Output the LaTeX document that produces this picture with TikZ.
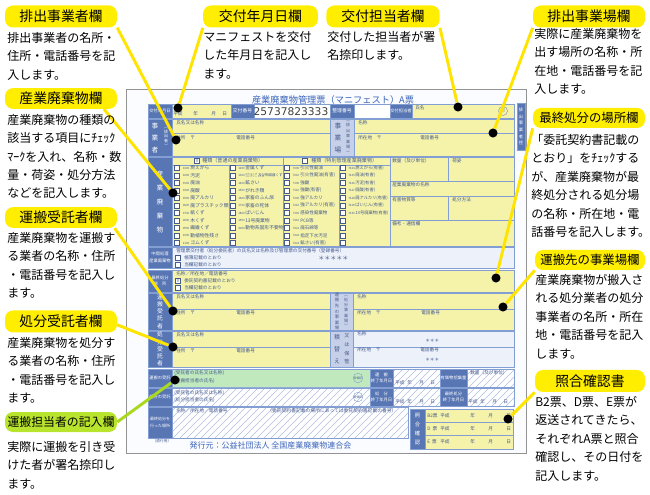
\documentclass[tikz,border=0pt]{standalone}
\usepackage{fontspec}
\setmainfont{Noto Sans CJK JP}
\newfontfamily\numfont{DejaVu Sans}
\usepackage{tikz}
\usetikzlibrary{shapes,positioning}
\pgfdeclarelayer{front}
\pgfsetlayers{main,front}

\definecolor{callout}{RGB}{255,238,0}
\definecolor{calloutgreen}{RGB}{185,228,45}
\definecolor{leadyellow}{RGB}{255,228,0}
\definecolor{leadgreen}{RGB}{170,216,30}
\definecolor{sheet}{RGB}{250,252,255}
\definecolor{formyellow}{RGB}{245,243,170}
\definecolor{formgreen}{RGB}{192,234,190}
\definecolor{formpale}{RGB}{236,241,250}
\definecolor{formblue}{RGB}{88,118,180}
\definecolor{formlight}{RGB}{198,208,232}
\definecolor{formline}{RGB}{130,158,210}
\definecolor{formtext}{RGB}{70,90,140}
\definecolor{hatchblue}{RGB}{175,190,225}
\definecolor{titleblue}{RGB}{60,100,185}

\tikzstyle{heading} = [rectangle, rounded corners=6pt, fill=callout,
    minimum width=84pt, minimum height=16.5pt, inner sep=0pt,
    font=\fontsize{10.4}{12}\selectfont]
\tikzstyle{note} = [anchor=north west, inner sep=0pt, align=left,
    font=\fontsize{9}{13.8}\selectfont]
\tikzstyle{leader} = [draw=leadyellow, line width=2.2pt]
\tikzstyle{spot} = [circle, fill=black, inner sep=0pt, minimum size=6.8pt]
\tikzstyle{band} = [fill=formblue, draw=formline, line width=0.4pt]
\tikzstyle{lightband} = [fill=formlight, draw=formline, line width=0.4pt]
\tikzstyle{field} = [fill=formyellow, draw=formline, line width=0.4pt]
\tikzstyle{divider} = [draw=formline, line width=0.3pt]
\tikzstyle{tiny} = [anchor=west, inner sep=0pt, text=formtext,
    font=\fontsize{3.5}{4.2}\selectfont]
\tikzstyle{codetext} = [anchor=west, inner sep=0pt, text=formtext,
    font=\fontsize{2.2}{3}\selectfont]
\tikzstyle{bandtext} = [inner sep=0pt, align=center, text=white,
    font=\fontsize{3.2}{4.4}\selectfont]
\tikzstyle{chk} = [draw=formtext, line width=0.3pt, fill=white,
    minimum size=3.6pt, inner sep=0pt]

\begin{document}
\begin{tikzpicture}[x=0.75pt, y=-0.75pt]
    \useasboundingbox (0,0) rectangle (650,495);

    % Form sheet
    \draw[gray!85, line width=0.6pt, fill=sheet] (126,89) rectangle (526,453);
    \node[text=titleblue, inner sep=0pt, font=\fontsize{6.9}{8}\selectfont] (title) at (333,100) {産業廃棄物管理票（マニフェスト）A票};
    \filldraw[band] (517,103) rectangle (525,150);
    \node[bandtext, font=\fontsize{3.2}{5}\selectfont] (tHikae) at (521,126.5) {排\\出\\事\\業\\者\\控};

    % Row: kofu date / number / person in charge
    \filldraw[band] (148,104) rectangle (172,118);
    \node[bandtext] (tKofuDate) at (160,111) {交付年月日};
    \filldraw[field] (172,104) rectangle (231,118);
    \node[tiny] (fHeisei) at (173,113.5) {平成};
    \node[tiny] (fNen) at (193,113.5) {年};
    \node[tiny] (fTsuki) at (211,113.5) {月};
    \node[tiny] (fHi) at (222,113.5) {日};
    \filldraw[band] (231,104) rectangle (254,118);
    \node[bandtext, font=\fontsize{3.6}{4}\selectfont] (tKofuNo) at (242.5,111) {交付番号};
    \filldraw[draw=formline, fill=white, line width=0.4pt] (254,104) rectangle (330,118);
    \node[inner sep=0pt, text=black!75, font=\numfont\fontsize{8}{9}\selectfont] (kofuNo) at (291,111.5) {25737823333};
    \filldraw[band] (330,104) rectangle (354,118);
    \node[bandtext, font=\fontsize{3.6}{4}\selectfont] (tSeiriNo) at (342,111) {整理番号};
    \filldraw[draw=formline, fill=white, line width=0.4pt] (354,104) rectangle (390,118);
    \filldraw[band] (390,104) rectangle (412,118);
    \node[bandtext] (tKofuTanto) at (401,111) {交付担当者};
    \filldraw[field] (412,104) rectangle (514,118);
    \node[tiny] (fShimei) at (415,107.5) {氏名};
    \draw[formtext!70, line width=0.3pt] (503,111) circle[radius=3.4pt];
    \node[tiny, anchor=center, text=formtext!60] (fIn) at (503,111) {印};

    % Row: jigyosha / jigyojo
    \filldraw[band] (148,119) rectangle (172,156);
    \node[bandtext, font=\fontsize{5}{9}\selectfont] (tJigyosha) at (155,137.5) {事\\業\\者};
    \node[bandtext, font=\fontsize{3}{3.6}\selectfont] (tHaishutsusha) at (166,137.5) {︵\\排\\出\\者\\︶};
    \filldraw[field] (172,119) rectangle (330,156);
    \draw[divider] (172,133) -- (330,133);
    \node[tiny] (fShimeiA) at (176,122.5) {氏名又は名称};
    \node[tiny] (fJushoA) at (176,137.5) {住所　〒};
    \node[tiny] (fDenwaA) at (236,137.5) {電話番号};
    \filldraw[lightband] (330,119) rectangle (354,156);
    \node[bandtext, text=formtext, font=\fontsize{5}{9}\selectfont] (tJigyojo) at (338,137.5) {事\\業\\場};
    \node[bandtext, text=formtext, font=\fontsize{3}{4.1}\selectfont] (tHaishutsuJigyojo) at (348,137.5) {︵\\排\\出\\事\\業\\場\\︶};
    \filldraw[field] (354,119) rectangle (514,156);
    \draw[divider] (354,133) -- (514,133);
    \node[tiny] (fMeishoB) at (358,122.5) {名称};
    \node[tiny] (fShozaiB) at (358,137.5) {所在地　〒};
    \node[tiny] (fDenwaB) at (420,137.5) {電話番号};

    % Row: kinds of waste
    \filldraw[band] (148,157) rectangle (172,246);
    \node[bandtext, font=\fontsize{5}{10.5}\selectfont] (tSangyo) at (160,201.5) {産\\業\\廃\\棄\\物};
    \filldraw[field] (172,157) rectangle (514,246);
    \draw[divider] (172,165) -- (390,165);
    \draw[divider] (229,165) -- (229,246) (339,165) -- (339,246);
    \draw[divider] (283,157) -- (283,246) (390,157) -- (390,246);
    \draw[divider] (390,181) -- (514,181) (390,196) -- (514,196) (390,220) -- (514,220);
    \draw[divider] (448,157) -- (448,181) (448,196) -- (448,220);
    \node[chk, text=formtext, font=\fontsize{3.2}{3.2}\selectfont] (hdrBoxA) at (197,161) {V};
    \node[tiny, font=\fontsize{3.8}{4.2}\selectfont] (hdrA) at (202,161) {種類（普通の産業廃棄物）};
    \node[chk] (hdrBoxB) at (305,161) {};
    \node[tiny, font=\fontsize{3.8}{4.2}\selectfont] (hdrB) at (311,161) {種類（特別管理産業廃棄物）};
    \foreach \code/\kind [count=\i] in {0100/燃えがら, 0200/汚泥, 0300/廃油, 0400/廃酸,
        0500/廃アルカリ, 0600/廃プラスチック類, 0700/紙くず, 0800/木くず,
        0900/繊維くず, 1000/動植物性残さ, 1100/ゴムくず}{
        \node[chk] (boxA\i) at (177,160.5+7.5*\i) {};
        \node[codetext] (codeA\i) at (182.5,160.5+7.5*\i) {\code};
        \node[tiny, font=\fontsize{3.6}{4}\selectfont] (kindA\i) at (190,160.5+7.5*\i) {\kind};
    }
    \foreach \row/\code/\kind in {1/1200/金属くず, 3/1400/鉱さい, 4/1500/がれき類,
        5/1600/家畜のふん尿, 6/1700/家畜の死体, 7/1800/ばいじん,
        8/1900/13号廃棄物, 9/4000/動物系固形不要物}{
        \node[chk] (boxB\row) at (233,160.5+7.5*\row) {};
        \node[codetext] (codeB\row) at (238,160.5+7.5*\row) {\code};
        \node[tiny, font=\fontsize{3.6}{4}\selectfont] (kindB\row) at (245,160.5+7.5*\row) {\kind};
    }
    \node[chk] (boxB2) at (233,175.5) {};
    \node[codetext] (codeB2) at (238,175.5) {1300};
    \node[tiny, align=left, font=\fontsize{1.8}{2}\selectfont] (kindB2a) at (245,175.5) {ガラスくず\\コンクリートくず};
    \node[tiny, font=\fontsize{2.6}{3}\selectfont] (kindB2b) at (258,175.5) {及び陶磁器くず};
    \foreach \row in {10,11}
        \node[chk] (boxB\row) at (233,160.5+7.5*\row) {};
    \foreach \code/\kind [count=\i] in {7000/引火性廃油, 7010/引火性廃油(有害), 7100/強酸,
        7110/強酸(有害), 7200/強アルカリ, 7210/強アルカリ(有害), 7300/感染性廃棄物,
        7410/PCB等, 7421/廃石綿等, 7422/指定下水汚泥, 7423/鉱さい(有害)}{
        \node[chk] (boxC\i) at (287,160.5+7.5*\i) {};
        \node[codetext] (codeC\i) at (292.5,160.5+7.5*\i) {\code};
        \node[tiny, font=\fontsize{3.4}{4}\selectfont] (kindC\i) at (300,160.5+7.5*\i) {\kind};
    }
    \foreach \code/\kind [count=\i] in {7424/燃えがら(有害), 7425/廃油(有害), 7426/汚泥(有害),
        7427/廃酸(有害), 7428/廃アルカリ(有害), 7429/ばいじん(有害), 7430/13号廃棄物(有害)}{
        \node[chk] (boxD\i) at (343,160.5+7.5*\i) {};
        \node[codetext] (codeD\i) at (348,160.5+7.5*\i) {\code};
        \node[tiny, font=\fontsize{3.2}{4}\selectfont] (kindD\i) at (355,160.5+7.5*\i) {\kind};
    }
    \foreach \row in {8,...,11}
        \node[chk] (boxD\row) at (343,160.5+7.5*\row) {};
    \node[tiny] (fSuryo) at (392,160.5) {数量（及び単位）};
    \node[tiny] (fNisugata) at (452,160.5) {荷姿};
    \node[tiny] (fMeisho) at (392,184.5) {産業廃棄物の名称};
    \node[tiny] (fYugai) at (392,199.5) {有害物質等};
    \node[tiny] (fShobunHoho) at (452,199.5) {処分方法};
    \node[tiny] (fBiko) at (392,223.5) {備考・通信欄};

    % Row: chukan shori
    \filldraw[band] (148,247) rectangle (172,268);
    \node[bandtext, font=\fontsize{3.2}{5}\selectfont] (tChukan) at (160,257.5) {中間処理\\産業廃棄物};
    \filldraw[draw=formline, fill=formpale, line width=0.4pt] (172,247) rectangle (514,268);
    \node[tiny] (fKofusha) at (176,251) {管理票交付者（処分委託者）の氏名又は名称及び管理票の交付番号（登録番号）};
    \node[chk] (boxChoubo) at (178,258) {};
    \node[tiny] (fChoubo) at (184,258) {帳簿記載のとおり};
    \node[chk] (boxTouranA) at (178,265) {};
    \node[tiny] (fTouranA) at (184,265) {当欄記載のとおり};
    \node[tiny, font=\fontsize{4.5}{5}\selectfont] (fStarsA) at (318,258) {＊＊＊＊＊};

    % Row: final disposal site
    \filldraw[band] (148,270) rectangle (172,292);
    \node[bandtext, font=\fontsize{3.2}{5}\selectfont] (tSaishu) at (160,281) {最終処分\\場　所};
    \filldraw[field] (172,270) rectangle (514,292);
    \node[tiny] (fSaishuMei) at (176,273.5) {名称／所在地／電話番号};
    \node[chk, text=formtext, font=\fontsize{3.2}{3.2}\selectfont] (boxItaku) at (178,280.5) {V};
    \node[tiny] (fItaku) at (184,280.5) {委託契約書記載のとおり};
    \node[chk] (boxTouranB) at (178,287.5) {};
    \node[tiny] (fTouranB) at (184,287.5) {当欄記載のとおり};

    % Row: transport contractor / destination
    \filldraw[band] (148,293) rectangle (172,330);
    \node[bandtext, font=\fontsize{4.4}{5.4}\selectfont] (tUnpanJutaku) at (160,311.5) {運\\搬\\受\\託\\者};
    \filldraw[field] (172,293) rectangle (330,330);
    \draw[divider] (172,309) -- (330,309);
    \node[tiny] (fShimeiC) at (176,296.5) {氏名又は名称};
    \node[tiny] (fJushoC) at (176,312.5) {住所　〒};
    \node[tiny] (fDenwaC) at (236,312.5) {電話番号};
    \filldraw[lightband] (330,293) rectangle (353,330);
    \node[bandtext, text=formtext, font=\fontsize{3.2}{4.2}\selectfont] (tUnpansaki) at (337,311.5) {運\\搬\\先\\の\\事\\業\\場};
    \node[bandtext, text=formtext, font=\fontsize{3}{3.9}\selectfont] (tShobunJigyojo) at (346,311.5) {︵\\処\\分\\事\\業\\場\\︶};
    \filldraw[field] (353,293) rectangle (514,330);
    \draw[divider] (353,309) -- (514,309);
    \node[tiny] (fMeishoD) at (357,296.5) {名称};
    \node[tiny] (fShozaiD) at (357,312.5) {所在地　〒};
    \node[tiny] (fDenwaD) at (421,312.5) {電話番号};

    % Row: disposal contractor / transshipment
    \filldraw[band] (148,331) rectangle (172,367);
    \node[bandtext, font=\fontsize{4.4}{5.4}\selectfont] (tShobunJutaku) at (160,349) {処\\分\\受\\託\\者};
    \filldraw[field] (172,331) rectangle (330,367);
    \draw[divider] (172,347) -- (330,347);
    \node[tiny] (fShimeiE) at (176,334.5) {氏名又は名称};
    \node[tiny] (fJushoE) at (176,350.5) {住所　〒};
    \node[tiny] (fDenwaE) at (236,350.5) {電話番号};
    \filldraw[lightband] (330,331) rectangle (353,367);
    \node[bandtext, text=formtext, font=\fontsize{4.4}{9}\selectfont] (tTsumikae) at (337,349) {積\\替\\え};
    \node[bandtext, text=formtext, font=\fontsize{3.8}{6.5}\selectfont] (tHokan) at (347,349) {又\\は\\保\\管};
    \filldraw[draw=formline, fill=formpale, line width=0.4pt] (353,331) rectangle (514,367);
    \draw[divider] (353,347) -- (514,347);
    \node[tiny] (fMeishoF) at (357,334) {名称};
    \node[tiny] (fStarsF) at (425,341) {＊＊＊};
    \node[tiny] (fShozaiF) at (357,349.5) {所在地　〒};
    \node[tiny] (fDenwaF) at (420,349.5) {電話番号};
    \node[tiny] (fStarsG) at (425,359.5) {＊＊＊};

    % Row: receipts
    \filldraw[band] (148,369) rectangle (172,387);
    \node[bandtext] (tUnpanUke) at (160,378) {運搬の受託};
    \filldraw[band] (148,388) rectangle (172,406);
    \node[bandtext] (tShobunUke) at (160,397) {処分の受託};
    \filldraw[band] (148,407) rectangle (172,438);
    \node[bandtext, font=\fontsize{3}{5}\selectfont] (tSaishuBasho) at (160,422.5) {最終処分を\\行った場所};
    \filldraw[draw=formline, fill=formgreen, line width=0.4pt] (172,369) rectangle (370,387);
    \begin{scope}
        \clip (172,388) rectangle (370,406) (393,369) rectangle (440,387) (467,369) rectangle (514,387)
              (393,388) rectangle (440,406) (467,388) rectangle (514,406) (172,407) rectangle (408,438);
        \fill[white] (150,360) rectangle (520,440);
        \foreach \x in {80,87,...,520}
            \draw[hatchblue, line width=0.35pt] (\x,440) -- ++(80,-80);
    \end{scope}
    \draw[divider] (172,388) rectangle (370,406) (393,369) rectangle (440,387) (467,369) rectangle (514,387)
          (393,388) rectangle (440,406) (467,388) rectangle (514,406) (172,407) rectangle (408,438);
    \node[tiny] (fJutakuA) at (174,373) {(受託者の氏名又は名称)};
    \node[tiny] (fUnpanTanto) at (174,380.5) {(運搬担当者の氏名)};
    \node[tiny] (fJutakuB) at (174,392.5) {(受託者の氏名又は名称)};
    \node[tiny] (fShobunTanto) at (174,400) {(処分担当者の氏名)};
    \draw[formline, line width=0.3pt] (358,378) circle[radius=3.6pt];
    \node[tiny, anchor=center, font=\fontsize{2.2}{3}\selectfont] (fJuryoA) at (358,378) {受領印};
    \draw[formline, line width=0.3pt] (358,397) circle[radius=3.6pt];
    \node[tiny, anchor=center, font=\fontsize{2.2}{3}\selectfont] (fJuryoB) at (358,397) {受領印};
    \filldraw[band] (370,369) rectangle (393,387);
    \node[bandtext] (tUnpanEnd) at (381.5,378) {運　搬\\終了年月日};
    \filldraw[band] (370,388) rectangle (393,406);
    \node[bandtext] (tShobunEnd) at (381.5,397) {処　分\\終了年月日};
    \filldraw[band] (440,369) rectangle (467,387);
    \node[bandtext] (tYuka) at (453.5,378) {有価物拾集量};
    \filldraw[band] (440,388) rectangle (467,406);
    \node[bandtext] (tSaishuEnd) at (453.5,397) {最終処分\\終了年月日};
    \foreach \yy/\xx [count=\i] in {383/395, 402/395, 402/468}{
        \node[tiny] (dHeisei\i) at (\xx,\yy) {平成};
        \node[tiny] (dNen\i) at (\xx+12,\yy) {年};
        \node[tiny] (dTsuki\i) at (\xx+24,\yy) {月};
        \node[tiny] (dHi\i) at (\xx+35,\yy) {日};
    }
    \node[tiny] (fSuryoB) at (470,372.5) {数量（及び単位）};
    \node[tiny] (fSaishuMeiB) at (176,410.5) {名称／所在地／電話番号};
    \node[tiny, font=\fontsize{3.6}{4}\selectfont] (fItakuNo) at (267,410.5) {（委託契約書記載の場所にあっては委託契約書記載の番号）};

    % Cross check box
    \filldraw[band] (410,409) rectangle (425,449);
    \node[bandtext, font=\fontsize{4}{6.6}\selectfont] (tShogo) at (417.5,429) {照\\合\\確\\認};
    \filldraw[field] (425,409) rectangle (513,449);
    \draw[divider] (425,422) -- (513,422) (425,435) -- (513,435);
    \foreach \slip/\yy [count=\i] in {B2票/415.5, D\ \ 票/428.5, E\ \ 票/442}{
        \node[tiny] (sSlip\i) at (427,\yy) {\slip};
        \node[tiny] (sHeisei\i) at (440,\yy) {平成};
        \node[tiny] (sNen\i) at (470,\yy) {年};
        \node[tiny] (sTsuki\i) at (488,\yy) {月};
        \node[tiny] (sHi\i) at (506,\yy) {日};
    }
    \node[tiny, anchor=center, font=\fontsize{2.8}{3}\selectfont] (fChokko) at (162,441) {（直行用）};
    \node[text=titleblue, inner sep=0pt, font=\fontsize{6}{7}\selectfont] (hakko) at (270.5,445) {発行元：公益社団法人 全国産業廃棄物連合会};

    % Spots and headings
    \begin{pgfonlayer}{front}
    \node[spot] (spotKofuDate) at (178,108) {};
    \node[spot] (spotHaishutsu) at (176,140) {};
    \node[spot] (spotSangyo) at (173,193) {};
    \node[spot] (spotUnpanJutaku) at (173,311) {};
    \node[spot] (spotShobunJutaku) at (173,347) {};
    \node[spot] (spotUnpanTanto) at (175,380) {};
    \node[spot] (spotKofuTanto) at (458,107) {};
    \node[spot] (spotJigyojo) at (493,133) {};
    \node[spot] (spotSaishu) at (496,278) {};
    \node[spot] (spotUnpansaki) at (503,307) {};
    \node[spot] (spotShogo) at (508,419) {};

    \node[heading] (hHaishutsu) at (61,16.5) {排出事業者欄};
    \node[heading, minimum width=86pt] (hKofuDate) at (260.5,16.5) {交付年月日欄};
    \node[heading, minimum width=85pt] (hKofuTanto) at (383,16.5) {交付担当者欄};
    \node[heading] (hJigyojo) at (589,16.5) {排出事業場欄};
    \node[heading, minimum height=15pt, font=\fontsize{9.3}{11}\selectfont] (hSaishu) at (589,118) {最終処分の場所欄};
    \node[heading, minimum height=15pt, minimum width=82.5pt, font=\fontsize{9.3}{11}\selectfont] (hUnpansaki) at (590,260) {運搬先の事業場欄};
    \node[heading, minimum width=82.5pt] (hShogo) at (590,381) {照合確認書};
    \node[heading, minimum height=15.5pt] (hSangyo) at (61,98.5) {産業廃棄物欄};
    \node[heading, minimum height=15.5pt] (hUnpanJutaku) at (61,217.5) {運搬受託者欄};
    \node[heading] (hShobunJutaku) at (61,321.5) {処分受託者欄};
    \node[heading, fill=calloutgreen, minimum height=15pt, font=\fontsize{8.9}{11}\selectfont] (hUnpanTanto) at (61,422) {運搬担当者の記入欄};
    \end{pgfonlayer}

    % Leaders
    \path[leader] (hHaishutsu.south east) -- (spotHaishutsu);
    \path[leader] (hKofuDate.south west) -- (spotKofuDate);
    \path[leader] (hKofuTanto.south east) -- (spotKofuTanto);
    \path[leader] (hJigyojo.south west) -- (spotJigyojo);
    \path[leader] (hSaishu.south west) -- (spotSaishu);
    \path[leader] (hUnpansaki.south west) -- (spotUnpansaki);
    \path[leader] (hShogo.south west) -- (spotShogo);
    \path[leader] ([xshift=-10pt]hSangyo.south east) -- (spotSangyo);
    \path[leader] ([xshift=-2pt]hUnpanJutaku.south east) -- (spotUnpanJutaku);
    \path[leader] ([yshift=-2.5pt]hShobunJutaku.east) -- (spotShobunJutaku);
    \path[leader, draw=leadgreen] (hUnpanTanto.east) -- (spotUnpanTanto);

    % Notes
    \node[note] (nHaishutsu) at (7,32) {排出事業者の名所・\\住所・電話番号を記\\入します。};
    \node[note] (nKofuDate) at (203,31) {マニフェストを交付\\した年月日を記入し\\ます。};
    \node[note] (nKofuTanto) at (327,31) {交付した担当者が署\\名捺印します。};
    \node[note] (nJigyojo) at (534,28) {実際に産業廃棄物を\\出す場所の名称・所\\在地・電話番号を記\\入します。};
    \node[note] (nSaishu) at (531,134) {「委託契約書記載の\\とおり」をﾁｪｯｸする\\が、産業廃棄物が最\\終処分される処分場\\の名称・所在地・電\\話番号を記入します。};
    \node[note] (nUnpansaki) at (535,274) {産業廃棄物が搬入さ\\れる処分業者の処分\\事業者の名所・所在\\地・電話番号を記入\\します。};
    \node[note] (nShogo) at (535,396) {B2票、D票、E票が\\返送されてきたら、\\それぞれA票と照合\\確認し、その日付を\\記入します。};
    \node[note] (nSangyo) at (7,114) {産業廃棄物の種類の\\該当する項目にﾁｪｯｸ\\ﾏｰｸを入れ、名称・数\\量・荷姿・処分方法\\などを記入します。};
    \node[note] (nUnpanJutaku) at (7,232) {産業廃棄物を運搬す\\る業者の名称・住所\\・電話番号を記入し\\ます。};
    \node[note] (nShobunJutaku) at (7,337) {産業廃棄物を処分す\\る業者の名称・住所\\・電話番号を記入し\\ます。};
    \node[note] (nUnpanTanto) at (7,441) {実際に運搬を引き受\\けた者が署名捺印し\\ます。};
\end{tikzpicture}
\end{document}
